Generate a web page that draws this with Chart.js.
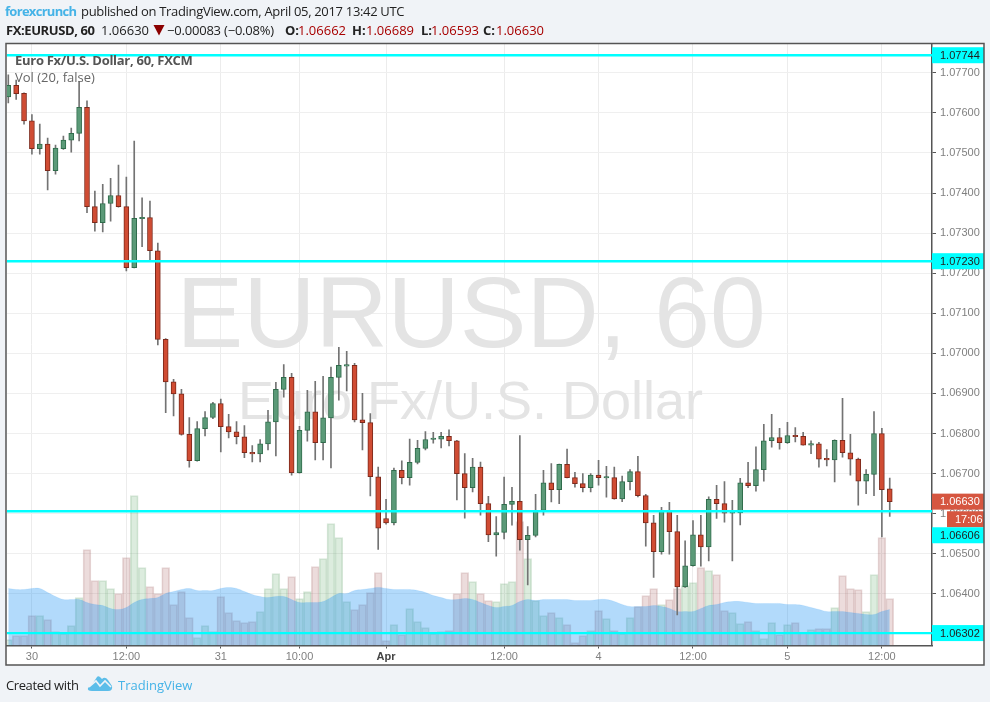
<!DOCTYPE html>
<html>
<head>
<meta charset="utf-8">
<title>EURUSD 60</title>
<script src="https://cdn.jsdelivr.net/npm/chart.js@4/dist/chart.umd.min.js"></script>
<style>
body { margin:0; background:#f0f3f7; width:990px; height:702px; overflow:hidden; font-family:"Open Sans",sans-serif; font-size:13px; color:#222; }
canvas { position:absolute; left:0; top:0; }
.txt { position:absolute; white-space:nowrap; z-index:2; }
.r2 { top:21px; }
.blue { color:#45b3e7; }
.red { color:#a80000; }
b { font-weight:700; }
</style>
</head>
<body>
<canvas id="myChart" width="990" height="702"></canvas>
<div class="txt blue" style="left:5px;top:2px;letter-spacing:-0.7px"><b>forexcrunch</b></div>
<div class="txt" style="left:81px;top:2px;letter-spacing:-0.32px">published on TradingView.com, April 05, 2017 13:42 UTC</div>
<div class="txt r2" style="left:6px;letter-spacing:-0.4px"><b>FX:EURUSD, 60</b></div>
<div class="txt r2" style="left:101px">1.06630</div>
<svg class="txt" style="left:153px;top:25px" width="12" height="11"><polygon points="0.5,0 11.5,0 6,10.5" fill="#8b0000"/></svg>
<div class="txt r2" style="left:167px;letter-spacing:-0.2px">&minus;0.00083 (&minus;0.08%)</div>
<div class="txt r2" style="left:285px"><b>O:</b></div>
<div class="txt r2 red" style="left:298px">1.06662</div>
<div class="txt r2" style="left:352px"><b>H:</b></div>
<div class="txt r2 red" style="left:366px">1.06689</div>
<div class="txt r2" style="left:421px"><b>L:</b></div>
<div class="txt r2 red" style="left:431px">1.06593</div>
<div class="txt r2" style="left:483px"><b>C:</b></div>
<div class="txt r2 red" style="left:496px">1.06630</div>
<div class="txt" style="left:15px;top:51px;color:#555;letter-spacing:-0.28px"><b>Euro Fx/U.S. Dollar, 60, FXCM</b></div>
<div class="txt" style="left:15px;top:68px;color:#666">Vol (20, false)</div>
<div class="txt" style="left:6px;top:676px;letter-spacing:-0.4px">Created with</div>
<svg class="txt" style="left:87px;top:675px" width="26" height="17" viewBox="0 0 26 17"><path fill="#5cbde9" d="M1 13 L6 8 L10 2 Q11 0.5 13 2 L15 4 Q18 1 21 5 L25 11 Q26 16 21 16 L5 16 Q0 16 1 13 Z"/><path fill="none" stroke="#f0f3f7" stroke-width="1.6" d="M2 12 L9 6 L13 11 L18 6 L24 12"/></svg>
<div class="txt blue" style="left:118px;top:676px">TradingView</div>
<script>
const opens = [
1.07640,1.07669,1.07649,1.07580,1.07511,1.07522,1.07456,1.07511,1.07532,1.07549,
1.07614,1.07366,1.07326,1.07374,1.07394,1.07366,1.07214,1.07336,1.07339,1.07256,
1.07035,1.06929,1.06899,1.06798,1.06732,1.06812,1.06840,1.06875,1.06817,1.06804,
1.06792,1.06753,1.06749,1.06774,1.06829,1.06910,1.06940,1.06702,1.06808,1.06854,
1.06777,1.06839,1.06940,1.06968,1.06970,1.06834,1.06827,1.06692,1.06588,1.06577,
1.06708,1.06690,1.06728,1.06763,1.06785,1.06786,1.06793,1.06782,1.06700,1.06665,
1.06716,1.06625,1.06547,1.06553,1.06623,1.06631,1.06535,1.06546,1.06608,1.06677,
1.06660,1.06723,1.06690,1.06675,1.06665,1.06696,1.06689,1.06690,1.06637,1.06680,
1.06705,1.06645,1.06577,1.06505,1.06607,1.06555,1.06417,1.06470,1.06547,1.06517,
1.06636,1.06625,1.06601,1.06602,1.06677,1.06670,1.06710,1.06782,1.06790,1.06777,
1.06795,1.06793,1.06771,1.06774,1.06738,1.06734,1.06783,1.06752,1.06736,1.06681,
1.06698,1.06800,1.06662];
const highs = [
1.07695,1.07682,1.07650,1.07596,1.07572,1.07537,1.07520,1.07542,1.07562,1.07678,
1.07630,1.07405,1.07422,1.07437,1.07470,1.07440,1.07530,1.07388,1.07380,1.07275,
1.07037,1.06935,1.06910,1.06840,1.06830,1.06855,1.06878,1.06886,1.06848,1.06830,
1.06820,1.06770,1.06785,1.06858,1.06928,1.06972,1.06950,1.06818,1.06908,1.06930,
1.06943,1.06966,1.07015,1.07005,1.06975,1.06900,1.06850,1.06716,1.06636,1.06714,
1.06732,1.06786,1.06783,1.06805,1.06803,1.06803,1.06809,1.06783,1.06750,1.06738,
1.06729,1.06643,1.06593,1.06691,1.06666,1.06795,1.06568,1.06648,1.06708,1.06725,
1.06724,1.06761,1.06703,1.06700,1.06700,1.06733,1.06718,1.06716,1.06694,1.06710,
1.06743,1.06648,1.06596,1.06616,1.06628,1.06596,1.06532,1.06583,1.06596,1.06642,
1.06671,1.06680,1.06633,1.06688,1.06728,1.06767,1.06823,1.06848,1.06813,1.06828,
1.06815,1.06803,1.06782,1.06778,1.06760,1.06784,1.06888,1.06798,1.06739,1.06710,
1.06855,1.06813,1.06689];
const lows = [
1.07625,1.07634,1.07572,1.07497,1.07497,1.07408,1.07447,1.07509,1.07502,1.07530,
1.07351,1.07305,1.07303,1.07330,1.07365,1.07206,1.07213,1.07266,1.07233,1.07021,
1.06852,1.06844,1.06796,1.06716,1.06731,1.06794,1.06837,1.06754,1.06789,1.06774,
1.06740,1.06729,1.06729,1.06759,1.06744,1.06891,1.06696,1.06701,1.06781,1.06734,
1.06734,1.06714,1.06883,1.06906,1.06829,1.06759,1.06644,1.06511,1.06574,1.06572,
1.06674,1.06671,1.06724,1.06759,1.06776,1.06764,1.06769,1.06634,1.06589,1.06654,
1.06596,1.06530,1.06494,1.06537,1.06571,1.06509,1.06422,1.06542,1.06596,1.06629,
1.06625,1.06689,1.06666,1.06654,1.06654,1.06671,1.06641,1.06636,1.06630,1.06659,
1.06642,1.06519,1.06441,1.06499,1.06499,1.06347,1.06416,1.06469,1.06469,1.06482,
1.06588,1.06579,1.06482,1.06572,1.06665,1.06656,1.06681,1.06766,1.06761,1.06775,
1.06779,1.06771,1.06750,1.06716,1.06719,1.06679,1.06741,1.06696,1.06621,1.06650,
1.06645,1.06542,1.06593];
const closes = [
1.07669,1.07648,1.07580,1.07511,1.07522,1.07456,1.07512,1.07532,1.07549,1.07614,
1.07366,1.07326,1.07374,1.07394,1.07366,1.07214,1.07337,1.07339,1.07256,1.07035,
1.06929,1.06899,1.06798,1.06732,1.06812,1.06840,1.06875,1.06817,1.06804,1.06792,
1.06752,1.06749,1.06774,1.06829,1.06910,1.06940,1.06702,1.06808,1.06854,1.06777,
1.06839,1.06940,1.06970,1.06970,1.06834,1.06827,1.06692,1.06564,1.06577,1.06708,
1.06690,1.06728,1.06763,1.06785,1.06788,1.06793,1.06782,1.06700,1.06665,1.06716,
1.06625,1.06547,1.06553,1.06623,1.06631,1.06535,1.06546,1.06608,1.06677,1.06660,
1.06723,1.06690,1.06675,1.06665,1.06696,1.06690,1.06691,1.06637,1.06680,1.06705,
1.06645,1.06577,1.06505,1.06607,1.06555,1.06417,1.06470,1.06547,1.06517,1.06636,
1.06625,1.06601,1.06602,1.06677,1.06670,1.06710,1.06782,1.06790,1.06777,1.06795,
1.06792,1.06771,1.06774,1.06736,1.06734,1.06783,1.06752,1.06736,1.06681,1.06698,
1.06800,1.06660,1.06630];
const volumes = [
6,10,10,30,30,26,14,12,20,48,
96,65,65,57,52,88,150,78,59,52,
78,41,54,28,8,20,14,49,33,25,
23,24,34,57,72,57,69,47,54,79,
87,122,108,44,36,41,53,73,5,21,
11,37,24,18,12,14,15,52,73,64,
52,45,44,62,64,124,87,45,30,33,
28,21,3,10,15,35,27,15,12,28,
39,50,57,41,46,57,60,63,78,75,
71,35,33,22,24,15,7,23,11,21,
23,13,16,17,17,38,70,57,56,34,
71,108,47];
const volumeMA = [
57,56,56,57,57,53,49,46,46,46,
43,41,40,37,36,38,43,46,47,48,
52,54,56,57,55,55,55,57,58,57,
54,51,49,48,49,49,46,43,43,43,
44,48,52,52,55,56,57,58,57,56,
56,56,55,53,50,48,46,46,47,46,
43,40,38,39,40,44,46,45,46,46,
46,46,45,45,45,46,46,44,41,39,
39,39,40,39,37,34,34,34,37,40,
41,43,44,44,43,42,42,42,42,41,
41,40,38,36,34,34,34,33,32,31,
31,34,36];
const levels = [1.07744, 1.0723, 1.06606, 1.06302];
const priceTicks = [1.063,1.064,1.065,1.066,1.067,1.068,1.069,1.07,1.071,1.072,1.073,1.074,1.075,1.076,1.077];
const timeTicks = [3,15,27,37,48,63,75,87,99,111];
const timeLabels = ["30","12:00","31","10:00","Apr","12:00","4","12:00","5","12:00"];

const upColor = "#5b9a78", upBorder = "#2f6b4b";
const downColor = "#d04c33", downBorder = "#7d2a1c";
const isUp = i => closes[i] >= opens[i];

// frame, watermark and the price tags on the right axis
const tvPlugin = {
  id: "tv",
  beforeDraw(chart) {
    const c = chart.ctx;
    c.save();
    c.fillStyle = "#fff";
    c.fillRect(6, 43.5, 978, 621.5);
    c.restore();
  },
  beforeDatasetsDraw(chart) {
    const c = chart.ctx;
    c.save();
    c.fillStyle = "#e4e4e4";
    c.textAlign = "center";
    c.textBaseline = "alphabetic";
    c.font = "100px 'Liberation Sans'";
    c.fillText("EURUSD, 60", 471, 347);
    c.font = "54px 'Liberation Sans'";
    c.fillText("Euro Fx/U.S. Dollar", 470.5, 419);
    c.restore();
  },
  afterDraw(chart) {
    const c = chart.ctx, y = chart.scales.y;
    const tag = (text, yc, bg, fg, left) => {
      c.fillStyle = bg;
      c.fillRect(left, yc - 8, 984 - left, 16);
      c.fillStyle = fg;
      c.font = "11px 'Liberation Sans'";
      c.textAlign = "left";
      c.textBaseline = "middle";
      c.fillText(text, left === 932 ? 940 : left + 8, yc + 0.5);
    };
    c.save();
    tag("1.07744", y.getPixelForValue(levels[0]), "#00ffff", "#222", 932);
    tag("1.07230", y.getPixelForValue(levels[1]), "#00ffff", "#222", 932);
    tag("1.06630", y.getPixelForValue(closes[112]), "#d65640", "#fff", 932);
    tag("17:06", y.getPixelForValue(levels[2]) + 8, "#d65640", "#fff", 947);
    tag("1.06606", y.getPixelForValue(levels[2]) + 24, "#00ffff", "#222", 932);
    tag("1.06302", y.getPixelForValue(levels[3]), "#00ffff", "#222", 932);
    c.strokeStyle = "#555";
    c.lineWidth = 1.5;
    c.strokeRect(6, 43.5, 978, 621.5);
    c.restore();
  }
};

const ctx = document.getElementById("myChart").getContext("2d");
const xMin = -0.165, xMax = 117.37;

const datasets = [
  {
    yAxisID: "yVol",
    data: volumes.map((v, i) => ({ x: i, y: v })),
    backgroundColor: volumes.map((v, i) => isUp(i) ? "rgba(80,160,90,0.2)" : "rgba(160,80,80,0.2)"),
    borderColor: volumes.map((v, i) => isUp(i) ? "rgba(80,150,90,0.22)" : "rgba(150,80,80,0.22)"),
    borderWidth: 1,
    borderSkipped: "start",
    barThickness: 7.87,
    order: 6
  },
  {
    type: "line",
    yAxisID: "yVol",
    data: volumeMA.map((v, i) => ({ x: i, y: v })),
    backgroundColor: "rgba(33,150,243,0.35)",
    borderColor: "rgba(33,150,243,0.1)",
    borderWidth: 1,
    pointRadius: 0,
    tension: 0.4,
    fill: "origin",
    order: 5
  },
  {
    data: highs.map((h, i) => ({ x: i, y: [lows[i], h] })),
    backgroundColor: "#737373",
    borderWidth: 0,
    barThickness: 1,
    order: 4
  },
  {
    data: opens.map((o, i) => ({ x: i, y: [o, closes[i]] })),
    backgroundColor: opens.map((o, i) => isUp(i) ? upColor : downColor),
    borderColor: opens.map((o, i) => isUp(i) ? upBorder : downBorder),
    borderWidth: 1,
    borderSkipped: false,
    barThickness: 5,
    minBarLength: 1.5,
    order: 3
  }
];
levels.forEach(l => datasets.push({
  type: "line",
  data: [{ x: xMin, y: l }, { x: xMax, y: l }],
  borderColor: "#00ffff",
  borderWidth: 2.4,
  pointRadius: 0,
  order: 1
}));

new Chart(ctx, {
  type: "bar",
  data: { datasets },
  plugins: [tvPlugin],
  options: {
    responsive: false,
    animation: false,
    datasets: { bar: { grouped: false } },
    layout: { padding: { left: 7, top: 44, right: 6, bottom: 37 } },
    plugins: { legend: { display: false }, tooltip: { enabled: false }, title: { display: false } },
    scales: {
      x: {
        type: "linear",
        offset: false,
        min: xMin,
        max: xMax,
        afterBuildTicks: s => { s.ticks = timeTicks.map(v => ({ value: v })); },
        afterFit: s => { s.height = 19.5; },
        grid: { offset: false, color: "#ececec", tickColor: "#555", tickLength: 3 },
        border: { color: "#555", width: 1.5 },
        ticks: {
          autoSkip: false,
          maxRotation: 0,
          padding: 2,
          color: ctx => ctx.tick && ctx.tick.value === 48 ? "#444" : "#808080",
          font: ctx => ({
            family: "'Liberation Sans'",
            size: 11,
            weight: ctx.tick && ctx.tick.value === 48 ? "bold" : "normal"
          }),
          callback: v => timeLabels[timeTicks.indexOf(v)]
        }
      },
      y: {
        position: "right",
        min: 1.06271,
        max: 1.07772,
        afterBuildTicks: s => { s.ticks = priceTicks.map(v => ({ value: v })); },
        afterFit: s => { s.width = 52; },
        grid: { color: "#efefef", tickColor: "#555", tickLength: 4 },
        border: { color: "#555", width: 1.5 },
        ticks: {
          padding: 4,
          color: "#808080",
          font: { family: "'Liberation Sans'", size: 11 },
          callback: v => v.toFixed(5)
        }
      },
      yVol: {
        display: false,
        min: 0,
        max: 601.5
      }
    }
  }
});
</script>
</body>
</html>
